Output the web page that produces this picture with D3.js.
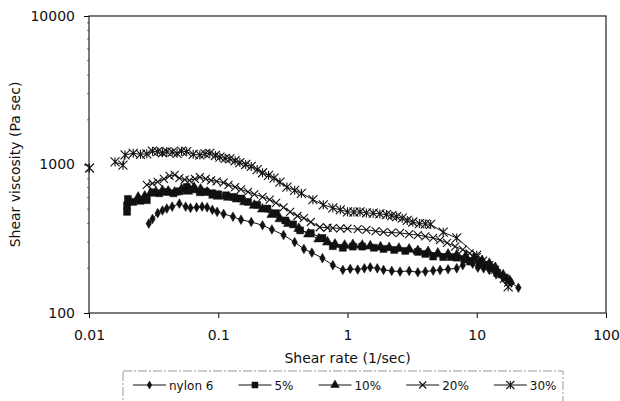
<!DOCTYPE html>
<html>
<head>
<meta charset="utf-8">
<script src="https://cdn.jsdelivr.net/npm/d3@7"></script>
<style>
  body { margin: 0; background: #fff; }
  text { font-family: "DejaVu Sans", sans-serif; fill: #111; }
</style>
</head>
<body>
<div id="chart"></div>
<script>
// shear rate (1/sec), shear viscosity (Pa sec)
const nylon6 = [[0.029,400],[0.031,430],[0.034,470],[0.037,490],[0.040,505],[0.044,520],[0.050,545],[0.056,520],[0.061,510],[0.068,515],[0.075,520],[0.082,515],[0.090,495],[0.098,480],[0.11,465],[0.13,445],[0.15,425],[0.18,410],[0.22,390],[0.26,365],[0.32,335],[0.39,300],[0.46,270],[0.53,255],[0.64,234],[0.77,210],[0.92,195],[1.05,198],[1.2,196],[1.35,200],[1.5,203],[1.7,200],[1.9,195],[2.2,192],[2.55,190],[3.0,192],[3.5,188],[4.0,190],[4.6,193],[5.2,195],[6.0,197],[7.0,200],[7.8,210],[8.5,228],[9.3,215],[10.2,202],[11.3,200],[12.5,195],[14,185],[16,173],[18.5,160],[21,148]];
const pct5 = [[0.0197,480],[0.0197,530],[0.020,586],[0.022,560],[0.025,570],[0.028,575],[0.031,650],[0.035,640],[0.040,653],[0.045,640],[0.050,660],[0.057,705],[0.064,680],[0.072,650],[0.080,655],[0.090,640],[0.10,630],[0.115,620],[0.13,605],[0.15,590],[0.17,560],[0.20,535],[0.24,505],[0.28,470],[0.33,420],[0.38,395],[0.43,360],[0.52,345],[0.64,320],[0.77,282],[0.92,275],[1.1,280],[1.3,280],[1.6,275],[1.9,270],[2.3,266],[2.8,262],[3.5,258],[4.0,250],[4.6,240],[5.5,238],[6.3,238],[7.0,236],[8.0,230],[8.9,222],[10.5,215],[12,210],[14.4,186],[16.5,173]];
const pct10 = [[0.024,600],[0.027,610],[0.030,640],[0.033,650],[0.037,665],[0.041,660],[0.046,650],[0.052,680],[0.058,660],[0.065,700],[0.073,680],[0.082,650],[0.092,620],[0.10,610],[0.12,600],[0.14,585],[0.16,560],[0.19,530],[0.22,500],[0.26,460],[0.30,430],[0.35,400],[0.42,370],[0.50,340],[0.60,315],[0.70,300],[0.80,290],[0.95,285],[1.1,288],[1.3,285],[1.5,282],[1.8,278],[2.1,275],[2.5,272],[3.0,268],[3.5,262],[4.2,258],[5.0,252],[6.0,248],[7.0,245],[8.2,240],[9.5,232],[11,225],[12.5,215],[14,200],[16,180],[18,165]];
const pct20 = [[0.028,728],[0.031,745],[0.034,764],[0.038,800],[0.042,837],[0.046,850],[0.050,810],[0.055,790],[0.060,783],[0.066,800],[0.072,822],[0.080,800],[0.088,783],[0.097,770],[0.11,755],[0.12,730],[0.135,705],[0.15,680],[0.17,653],[0.19,630],[0.22,606],[0.25,580],[0.28,552],[0.32,515],[0.36,480],[0.41,450],[0.46,435],[0.52,410],[0.61,378],[0.7,375],[0.77,373],[0.88,372],[1.0,370],[1.2,367],[1.4,363],[1.65,356],[1.9,350],[2.2,348],[2.55,346],[3.0,340],[3.5,335],[4.0,328],[4.6,320],[5.2,310],[5.9,297],[6.8,280],[7.8,267],[8.8,252],[10,238],[11.2,225],[12.5,210],[13.8,195],[15,180],[16.2,170],[17.5,160]];
const pct30 = [[0.0101,947],[0.0159,1040],[0.0183,990],[0.019,1160],[0.022,1190],[0.025,1170],[0.028,1180],[0.031,1230],[0.034,1220],[0.037,1200],[0.040,1220],[0.044,1210],[0.048,1190],[0.052,1230],[0.057,1220],[0.064,1170],[0.072,1160],[0.079,1180],[0.086,1190],[0.095,1150],[0.103,1120],[0.113,1100],[0.123,1090],[0.135,1060],[0.147,1030],[0.163,1000],[0.18,970],[0.20,925],[0.22,880],[0.245,845],[0.27,810],[0.30,760],[0.34,705],[0.39,670],[0.44,640],[0.54,580],[0.65,535],[0.77,510],[0.88,495],[1.0,480],[1.12,478],[1.25,480],[1.4,472],[1.58,470],[1.78,465],[2.0,460],[2.2,452],[2.4,445],[2.65,435],[2.9,420],[3.2,410],[3.6,400],[4.0,398],[4.4,395],[5.5,350],[7.0,320],[10,245],[13,205],[17.5,150]];

const seriesNames = ["nylon 6", "5%", "10%", "20%", "30%"];
const seriesMarkers = ["diamond", "square", "triangle", "cross", "star"];
const xTicks = [0.01, 0.1, 1, 10, 100];
const yTicks = [100, 1000, 10000];

let width = 620
let height = 401
let margin = {top: 16, right: 14, bottom: 88, left: 89}
let plotW = width - margin.left - margin.right
let plotH = height - margin.top - margin.bottom

let allSeries = [nylon6, pct5, pct10, pct20, pct30];

let svg = d3.select("#chart").append("svg")
  .attr("width", width)
  .attr("height", height);

svg.append("rect").attr("width", width).attr("height", height).attr("fill", "#fff");

let x = d3.scaleLog().domain([0.01, 100]).range([margin.left, margin.left + plotW]);
let y = d3.scaleLog().domain([100, 10000]).range([margin.top + plotH, margin.top]);

// minor ticks on the left, little dots like the scanned original
let minor = [];
[100, 1000].forEach(d => { for (let k = 2; k < 10; k++) minor.push(d * k); });
svg.append("g")
  .selectAll("line")
  .data(minor)
  .join("line")
  .attr("x1", margin.left - 2).attr("x2", margin.left)
  .attr("y1", d => y(d)).attr("y2", d => y(d))
  .attr("stroke", "#777");

let yAxis = svg.append("g")
  .attr("transform", `translate(${margin.left},0)`)
  .call(d3.axisLeft(y).tickValues(yTicks).tickFormat(d3.format("d")).tickSize(5).tickPadding(9));
yAxis.select(".domain").remove();
yAxis.selectAll("text").style("font-size", "14px").style("font-family", "DejaVu Sans");

let xAxis = svg.append("g")
  .attr("transform", `translate(0,${margin.top + plotH})`)
  .call(d3.axisBottom(x).tickValues(xTicks).tickFormat(d => d < 1 ? d3.format(".2~f")(d) : d3.format("d")(d)).tickSize(5).tickPadding(12));
xAxis.select(".domain").remove();
xAxis.selectAll("text").style("font-size", "14px").style("font-family", "DejaVu Sans");

// plot frame
svg.append("rect")
  .attr("x", margin.left).attr("y", margin.top)
  .attr("width", plotW).attr("height", plotH)
  .attr("fill", "none").attr("stroke", "#222").attr("stroke-width", 1.2);

svg.append("text")
  .attr("x", margin.left + plotW / 2).attr("y", 363)
  .attr("text-anchor", "middle")
  .style("font-size", "14px")
  .text("Shear rate (1/sec)");

svg.append("text")
  .attr("transform", `translate(20,${margin.top + plotH / 2}) rotate(-90)`)
  .attr("text-anchor", "middle")
  .style("font-size", "14px")
  .text("Shear viscosity (Pa sec)");

function markerPath(kind, s) {
  if (kind == "diamond") return d3.symbol(d3.symbolDiamond, s * s * 0.75)();
  if (kind == "square") return d3.symbol(d3.symbolSquare, s * s)();
  if (kind == "triangle") return d3.symbol(d3.symbolTriangle, s * s * 0.9)();
  let h = s / 2;
  let p = `M${-h},${-h}L${h},${h}M${-h},${h}L${h},${-h}`;
  if (kind == "star") p += `M0,${-h}L0,${h}`;
  return p;
}

function drawMarker(sel, kind, s) {
  let filled = kind == "diamond" || kind == "square" || kind == "triangle";
  sel.attr("d", markerPath(kind, s))
    .attr("fill", filled ? "#111" : "none")
    .attr("stroke", "#111")
    .attr("stroke-width", filled ? 0.5 : 1.1);
}

// the first 30% reading stands alone in the original, so break the line on big jumps
function segments(data) {
  let out = [[data[0]]];
  for (let i = 1; i < data.length; i++) {
    if (data[i][0] / data[i - 1][0] > 1.45) out.push([]);
    out[out.length - 1].push(data[i]);
  }
  return out;
}

let line = d3.line().x(d => x(d[0])).y(d => y(d[1]));
let markerSize = [6, 7, 7, 8, 9];

allSeries.forEach(function(data, i) {
  let g = svg.append("g").attr("class", "series");
  g.selectAll("path.l")
    .data(segments(data))
    .join("path")
    .attr("class", "l")
    .attr("d", line)
    .attr("fill", "none")
    .attr("stroke", "#111")
    .attr("stroke-width", 1);
  g.selectAll("path.m")
    .data(data)
    .join("path")
    .attr("class", "m")
    .attr("transform", d => `translate(${x(d[0])},${y(d[1])})`)
    .call(drawMarker, seriesMarkers[i], markerSize[i]);
});

// legend
let legend = svg.append("g");
legend.append("rect")
  .attr("x", 123).attr("y", 371)
  .attr("width", 440).attr("height", 45)
  .attr("fill", "none").attr("stroke", "#999")
  .attr("stroke-dasharray", "9,2,2,2");

let lx = 133
let ly = 385
seriesNames.forEach(function(name, i) {
  legend.append("line")
    .attr("x1", lx).attr("x2", lx + 33)
    .attr("y1", ly).attr("y2", ly)
    .attr("stroke", "#111");
  legend.append("path")
    .attr("transform", `translate(${lx + 16.5},${ly})`)
    .call(drawMarker, seriesMarkers[i], markerSize[i] - 1);
  let t = legend.append("text")
    .attr("x", lx + 36).attr("y", ly + 4.5)
    .style("font-size", "12px")
    .text(name);
  lx += 36 + t.node().getComputedTextLength() + 25;
});
</script>
</body>
</html>
